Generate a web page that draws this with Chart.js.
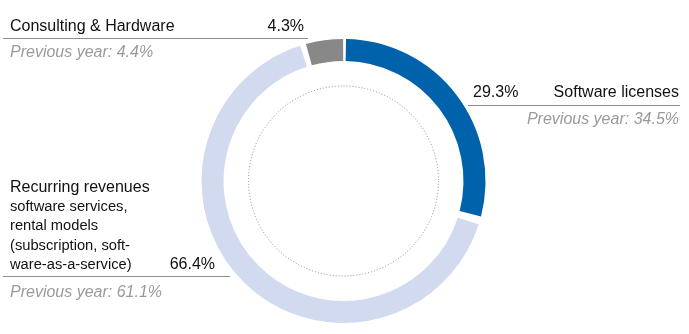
<!DOCTYPE html>
<html>
<head>
<meta charset="utf-8">
<script src="https://cdn.jsdelivr.net/npm/chart.js@4/dist/chart.umd.min.js"></script>
<style>
  html, body { margin: 0; padding: 0; background: #fff; }
  canvas { display: block; }
</style>
</head>
<body>
<canvas id="revenue" width="689" height="334"></canvas>
<script>
const segments = ['Software licenses', 'Recurring revenues', 'Consulting & Hardware'];
const shares = [29.3, 66.4, 4.3];
const previousYear = [34.5, 61.1, 4.4];
const segmentColors = ['#0062aa', '#d1daee', '#888888'];
const recurringDetail = ['software services,', 'rental models', '(subscription, soft-', 'ware-as-a-service)'];

const FONT = '"Liberation Sans", Arial, Helvetica, sans-serif';
const pct = v => v.toFixed(1) + '%';
const prev = v => 'Previous year: ' + pct(v);

// dotted guide circle inside the ring
const innerGuide = {
  id: 'innerGuide',
  afterDatasetsDraw(chart) {
    const arc = chart.getDatasetMeta(0).data[0];
    const ctx = chart.ctx;
    ctx.save();
    ctx.strokeStyle = '#8a8a8a';
    ctx.lineWidth = 1;
    ctx.setLineDash([1, 2]);
    ctx.beginPath();
    ctx.arc(arc.x, arc.y, 95, 0, Math.PI * 2);
    ctx.stroke();
    ctx.restore();
  }
};

// text blocks with a rule under the headline
const segmentLabels = {
  id: 'segmentLabels',
  afterDraw(chart) {
    const ctx = chart.ctx;
    ctx.save();
    ctx.textBaseline = 'alphabetic';

    const rule = (x1, x2, y) => {
      ctx.strokeStyle = '#8c8c8c';
      ctx.lineWidth = 1;
      ctx.beginPath();
      ctx.moveTo(x1, y + 0.5);
      ctx.lineTo(x2, y + 0.5);
      ctx.stroke();
    };
    const text = (s, x, y, align, size, color, italic) => {
      ctx.font = (italic ? 'italic ' : '') + size + 'px ' + FONT;
      ctx.fillStyle = color;
      ctx.textAlign = align;
      ctx.fillText(s, x, y);
    };

    // Consulting & Hardware (top left)
    text(segments[2], 10, 31, 'left', 16, '#111', false);
    text(pct(shares[2]), 304, 31, 'right', 16, '#111', false);
    rule(3, 308, 38);
    text(prev(previousYear[2]), 10, 57, 'left', 16, '#9a9a9a', true);

    // Software licenses (right)
    text(pct(shares[0]), 473, 97, 'left', 16, '#111', false);
    text(segments[0], 679, 97, 'right', 16, '#111', false);
    rule(468, 680, 105);
    text(prev(previousYear[0]), 679, 124, 'right', 16, '#9a9a9a', true);

    // Recurring revenues (bottom left)
    text(segments[1], 10, 192, 'left', 16, '#111', false);
    recurringDetail.forEach((s, i) => {
      text(s, 10, 211 + i * 19.4, 'left', 14.7, '#111', false);
    });
    text(pct(shares[1]), 215, 269, 'right', 16, '#111', false);
    rule(3, 230, 276);
    text(prev(previousYear[1]), 10, 297, 'left', 16, '#9a9a9a', true);

    ctx.restore();
  }
};

new Chart(document.getElementById('revenue'), {
  type: 'doughnut',
  data: {
    labels: segments,
    datasets: [{
      data: shares,
      backgroundColor: segmentColors,
      borderWidth: 0,
      spacing: 5
    }]
  },
  options: {
    responsive: false,
    animation: false,
    cutout: '84.2%',
    rotation: 0,
    layout: { padding: { top: 39, bottom: 11, left: 0, right: 2 } },
    plugins: {
      legend: { display: false },
      tooltip: { enabled: false }
    }
  },
  plugins: [innerGuide, segmentLabels]
});
</script>
</body>
</html>
